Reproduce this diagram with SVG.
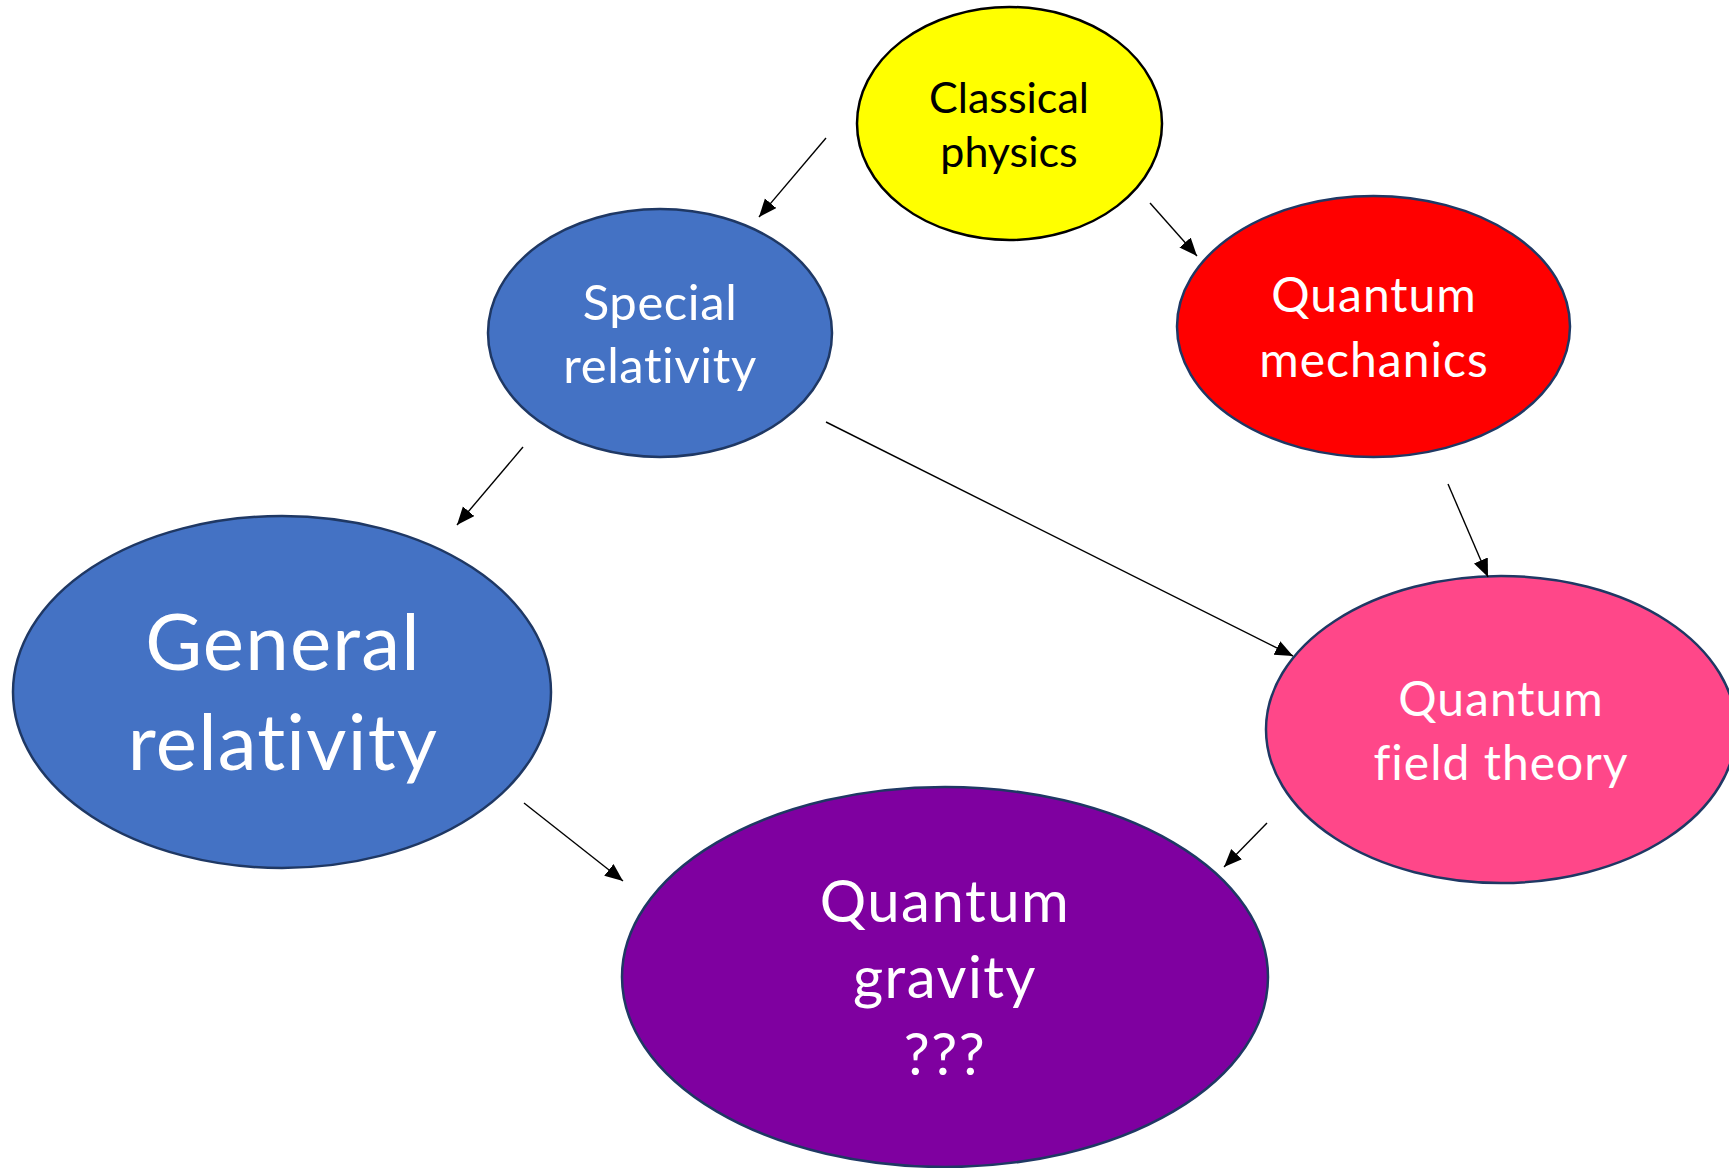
<svg xmlns="http://www.w3.org/2000/svg" width="1729" height="1168" viewBox="0 0 1729 1168">
<style>
.node ellipse{stroke:#1F3864;stroke-width:2.5}
.node text{font-family:Lato,"Open Sans","Liberation Sans",sans-serif;text-anchor:middle;fill:#ffffff;font-variant-ligatures:none;font-feature-settings:"liga" 0,"clig" 0}
.conn line{stroke:#000;stroke-width:1.4;marker-end:url(#ah)}
</style>
<defs>
<marker id="ah" markerUnits="userSpaceOnUse" markerWidth="20" markerHeight="16" refX="18" refY="7.5" orient="auto" viewBox="0 0 20 16">
<path d="M0,0 L18,7.5 L0,15 Z" fill="#000"/>
</marker>
</defs>
<rect width="1729" height="1168" fill="#ffffff"/>
<g id="classical" class="node">
<ellipse cx="1009.5" cy="123.5" rx="152.5" ry="116.5" fill="#FFFF00" style="stroke:#000"/>
<text x="1009" y="113" font-size="43" style="fill:#000">Classical</text>
<text x="1009" y="167" font-size="43" style="fill:#000">physics</text>
</g>
<g id="special" class="node">
<ellipse cx="660" cy="333" rx="172" ry="124" fill="#4472C4"/>
<text x="660" y="320" font-size="49" letter-spacing="0.6">Special</text>
<text x="660" y="383" font-size="49" letter-spacing="0.6">relativity</text>
</g>
<g id="qm" class="node">
<ellipse cx="1373.5" cy="326.5" rx="196.5" ry="130.5" fill="#FF0000"/>
<text x="1374" y="312" font-size="48" letter-spacing="1">Quantum</text>
<text x="1374" y="377" font-size="48" letter-spacing="1">mechanics</text>
</g>
<g id="gr" class="node">
<ellipse cx="282" cy="692" rx="269" ry="176" fill="#4472C4"/>
<text x="283" y="670" font-size="78" letter-spacing="1.2">General</text>
<text x="283" y="770" font-size="78" letter-spacing="1.2">relativity</text>
</g>
<g id="qft" class="node">
<ellipse cx="1501" cy="729.5" rx="235" ry="153.5" fill="#FF4789"/>
<text x="1501" y="716" font-size="48" letter-spacing="1">Quantum</text>
<text x="1501" y="780" font-size="48" letter-spacing="1">field theory</text>
</g>
<g id="qg" class="node">
<ellipse cx="945" cy="977" rx="323" ry="190" fill="#7F00A0"/>
<text x="945" y="922" font-size="58" letter-spacing="1.5">Quantum</text>
<text x="945" y="998" font-size="58" letter-spacing="1.5">gravity</text>
<text x="945" y="1075" font-size="58" letter-spacing="1.5">???</text>
</g>
<g id="connectors" class="conn">
<line x1="826" y1="138" x2="759" y2="217"/>
<line x1="1150" y1="203" x2="1197" y2="256"/>
<line x1="523" y1="447" x2="457" y2="525"/>
<line x1="826" y1="422" x2="1293" y2="656"/>
<line x1="1448" y1="484" x2="1488" y2="577"/>
<line x1="524" y1="803" x2="623" y2="881"/>
<line x1="1267" y1="823" x2="1224" y2="867"/>
</g>
</svg>
